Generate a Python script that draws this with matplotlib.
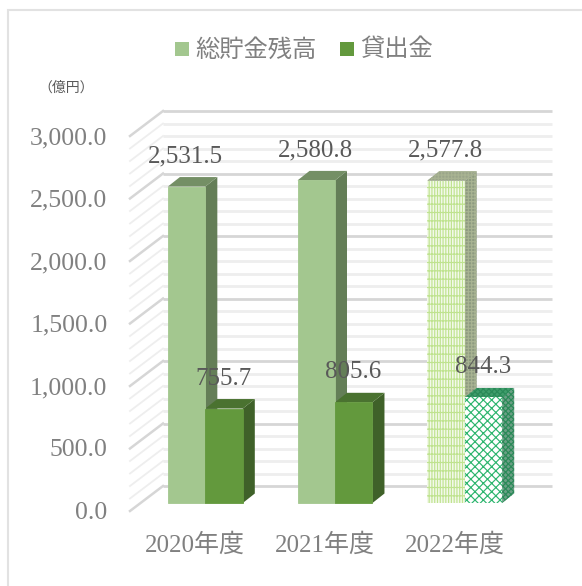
import matplotlib
matplotlib.use("Agg")
import matplotlib.pyplot as plt
from matplotlib.patches import Rectangle, Polygon
from matplotlib.transforms import Affine2D

plt.rcParams['font.family'] = ['Liberation Serif', 'Noto Sans CJK JP', 'DejaVu Sans']
plt.rcParams['hatch.linewidth'] = 0.85

W, H = 582, 586
categories = ['2020年度', '2021年度', '2022年度']
series_names = ['総貯金残高', '貸出金']
deposits = [2531.5, 2580.8, 2577.8]
loans = [755.7, 805.6, 844.3]
y_ticks = [0, 500, 1000, 1500, 2000, 2500, 3000]
minor_grid = [v for v in range(0, 3001, 100)]

C_TEXT = '#808080'
fig = plt.figure(figsize=(W / 100, H / 100), dpi=100, facecolor='white')
# outer frame: the reference is cropped, only its top and left sides show
fig.add_artist(Rectangle((7.5 / W, -0.02), 1.0, 1 - 9.5 / H + 0.02, transform=fig.transFigure,
                         fill=False, ec='#e2e2e2', lw=1.5))
ax = fig.add_axes([140.5 / W, 1 - 503 / H, 389 / W, 375 / H])
ax.set_xlim(-0.5, 2.5)
ax.set_ylim(0, 3000)
ax.axis('off')

def off(dx, dy):
    return ax.transData + Affine2D().translate(dx, dy)

BACK = off(22.5, 17)
# walls
for v in minor_grid:
    major = v % 500 == 0
    c = '#d6d6d6' if major else '#eeeeee'
    ax.plot([-0.5, 2.5], [v, v], transform=BACK, color=c, lw=2.0, clip_on=False, solid_capstyle='butt', zorder=1)
    x0, y0 = ax.transData.transform((-0.5, v))
    ax.plot([x0 - 10.5, x0 + 22.5], [y0 - 8, y0 + 17], transform=None, color=c,
            lw=1.8 if major else 1.3, clip_on=False, zorder=1)

BW = 0.289
DX, DY = 12, 9.5

def bar3d(x, v, front, top, side, hatch=None, edge=None, side_hatch=None, side_edge=None):
    z = 3
    ax.bar(x, v, BW, align='edge', facecolor=front, edgecolor=edge if edge else front, hatch=hatch, lw=0.6 if not edge else 0, zorder=z + 1, clip_on=False)
    tr = ax.transData
    (xa, y0), (xb, y1) = tr.transform((x, 0)), tr.transform((x + BW, v))
    pts_side = [(xb, y0), (xb + DX, y0 + DY), (xb + DX, y1 + DY), (xb, y1)]
    pts_top = [(xa, y1), (xb, y1), (xb + DX, y1 + DY), (xa + DX, y1 + DY)]
    ax.add_patch(Polygon(pts_side, transform=None, facecolor=side, edgecolor=side_edge if side_edge else side, hatch=side_hatch, lw=0, zorder=z, clip_on=False))
    ax.add_patch(Polygon(pts_top, transform=None, facecolor=top, edgecolor=side_edge if side_edge else top, hatch=side_hatch, lw=0, zorder=z, clip_on=False))

for i in range(3):
    if i < 2:
        bar3d(i - BW, deposits[i], '#a3c78f', '#748f65', '#647e57')
        bar3d(i, loans[i], '#63993d', '#4a7230', '#3f6129')
    else:
        bar3d(i - BW, deposits[i], '#f3f9ea', '#9aa58a', '#8d9a80', hatch='||||++', edge='#bfe38f',
              side_hatch='+++++', side_edge='#a8b392')
        bar3d(i, loans[i], 'white', '#3f9d6b', '#6b9f85', hatch='xxxx', edge='#2db56e',
              side_hatch='xxxxxx', side_edge='#2a8a58')

for i in range(3):
    ax.text(i - 0.15, deposits[i], f'{deposits[i]:,.1f}', transform=off(0, 19), ha='center', va='bottom',
            fontsize=18, color='#595959', zorder=6, clip_on=False)
    ax.text(i + 0.143, loans[i], f'{loans[i]:,.1f}', transform=off(0, 19), ha='center', va='bottom',
            fontsize=18, color='#595959', zorder=6, clip_on=False)
    ax.text(i, 0, categories[i], transform=off(-10, -42), ha='center', va='center',
            fontsize=18, color=C_TEXT, clip_on=False)

for v in y_ticks:
    ax.text(-0.5, v, f'{v:,.1f}', transform=off(-33, -10), ha='right', va='center',
            fontsize=18.5, color=C_TEXT, clip_on=False)

# legend and unit note
def figtext(x, y, s, **kw):
    fig.text(x / W, 1 - y / H, s, va='center', **kw)

for x, c, name in [(175, '#a3c78f', series_names[0]), (340, '#63993d', series_names[1])]:
    fig.add_artist(Rectangle((x / W, 1 - 56 / H), 14 / W, 14 / H, transform=fig.transFigure, fc=c, ec='none'))
    figtext(x + 20, 50, name, fontsize=17.5, color=C_TEXT)
figtext(38, 88, '（億円）', fontsize=10, color='#595959')

fig.savefig('out.png', dpi=100, facecolor='white')
